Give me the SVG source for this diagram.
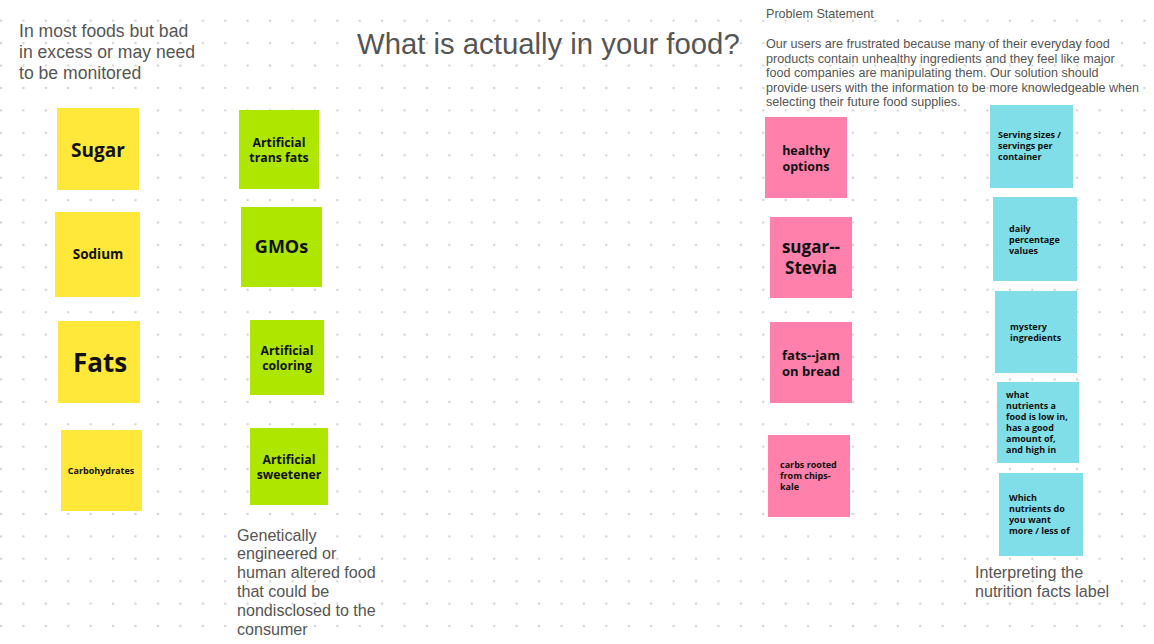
<svg xmlns="http://www.w3.org/2000/svg" width="1154" height="644" viewBox="0 0 1154 644">
<defs>
<pattern id="dots" x="1" y="-1.7" width="22.42" height="22.42" patternUnits="userSpaceOnUse">
<circle cx="0" cy="0" r="1.3" fill="#d4d4d4"/>
<circle cx="22.42" cy="0" r="1.3" fill="#d4d4d4"/>
<circle cx="0" cy="22.42" r="1.3" fill="#d4d4d4"/>
<circle cx="22.42" cy="22.42" r="1.3" fill="#d4d4d4"/>
</pattern>
<style>
.y{fill:#FFE83A}
.g{fill:#AFE600}
.p{fill:#FF80AA}
.c{fill:#7FDEE8}
.st{font-family:"Open Sans","Liberation Sans",sans-serif;font-weight:700;fill:#111;text-anchor:middle}
.sl{font-family:"Open Sans","Liberation Sans",sans-serif;font-weight:700;fill:#111;font-size:9px}
.lb{font-family:"Liberation Sans",Arial,sans-serif;fill:#555}
</style>
</defs>
<rect width="1154" height="644" fill="#ffffff"/>
<rect width="1154" height="644" fill="url(#dots)"/>

<g id="title"><text class="lb" x="357" y="54" font-size="29.3" fill="#444">What is actually in your food?</text></g>

<g id="label-monitored"><text class="lb" font-size="17.6"><tspan x="19" y="37">In most foods but bad</tspan><tspan x="19" y="58">in excess or may need</tspan><tspan x="19" y="79">to be monitored</tspan></text></g>

<g id="problem-statement"><text class="lb" font-size="12.6"><tspan x="766" y="18">Problem Statement</tspan><tspan x="766" y="48">Our users are frustrated because many of their everyday food</tspan><tspan x="766" y="62.6">products contain unhealthy ingredients and they feel like major</tspan><tspan x="766" y="77.2">food companies are manipulating them. Our solution should</tspan><tspan x="766" y="91.8">provide users with the information to be more knowledgeable when</tspan><tspan x="766" y="106.4">selecting their future food supplies.</tspan></text></g>

<g id="label-gmo"><text class="lb" font-size="16.1"><tspan x="237" y="540.5">Genetically</tspan><tspan x="237" y="559.3">engineered or</tspan><tspan x="237" y="578.1">human altered food</tspan><tspan x="237" y="596.9">that could be</tspan><tspan x="237" y="615.7">nondisclosed to the</tspan><tspan x="237" y="634.5">consumer</tspan></text></g>

<g id="label-nutrition"><text class="lb" font-size="16.1"><tspan x="975" y="578">Interpreting the</tspan><tspan x="975" y="597">nutrition facts label</tspan></text></g>

<g id="connectors"></g>

<g id="sugar"><rect class="y" x="57" y="108" width="82" height="82"/><text class="st" x="98" y="156.5" font-size="19">Sugar</text></g>
<g id="sodium"><rect class="y" x="55" y="212" width="85" height="85"/><text class="st" x="98" y="259" font-size="13.5">Sodium</text></g>
<g id="fats"><rect class="y" x="58" y="321" width="82" height="82"/><text class="st" x="100" y="371.5" font-size="26">Fats</text></g>
<g id="carbohydrates"><rect class="y" x="61" y="430" width="81" height="81"/><text class="st" x="101" y="473.5" font-size="9">Carbohydrates</text></g>

<g id="trans-fats"><rect class="g" x="239" y="110" width="80" height="79"/><text class="st" font-size="12.3"><tspan x="279" y="146.5">Artificial</tspan><tspan x="279" y="161.5">trans fats</tspan></text></g>
<g id="gmos"><rect class="g" x="241" y="207" width="81" height="80"/><text class="st" x="281.5" y="253" font-size="18">GMOs</text></g>
<g id="coloring"><rect class="g" x="250" y="320" width="74" height="75"/><text class="st" font-size="12.3"><tspan x="287" y="354.5">Artificial</tspan><tspan x="287" y="369.5">coloring</tspan></text></g>
<g id="sweetener"><rect class="g" x="250" y="428" width="78" height="77"/><text class="st" font-size="12.3"><tspan x="289" y="464">Artificial</tspan><tspan x="289" y="479">sweetener</tspan></text></g>

<g id="healthy-options"><rect class="p" x="765" y="117" width="82" height="81"/><text class="st" font-size="12.5"><tspan x="806" y="154.5">healthy</tspan><tspan x="806" y="170.5">options</tspan></text></g>
<g id="sugar-stevia"><rect class="p" x="770" y="217" width="82" height="81"/><text class="st" font-size="17"><tspan x="811" y="253">sugar--</tspan><tspan x="811" y="274">Stevia</tspan></text></g>
<g id="fats-jam"><rect class="p" x="770" y="322" width="82" height="81"/><text class="st" font-size="13"><tspan x="811" y="359.5">fats--jam</tspan><tspan x="811" y="376">on bread</tspan></text></g>
<g id="carbs-kale"><rect class="p" x="768" y="435" width="82" height="82"/><text class="sl"><tspan x="780" y="468">carbs rooted</tspan><tspan x="780" y="479">from chips-</tspan><tspan x="780" y="490">kale</tspan></text></g>

<g id="serving-sizes"><rect class="c" x="990" y="105" width="83" height="83"/><text class="sl"><tspan x="998" y="138">Serving sizes /</tspan><tspan x="998" y="149">servings per</tspan><tspan x="998" y="160">container</tspan></text></g>
<g id="daily-values"><rect class="c" x="993" y="197" width="84" height="84"/><text class="sl"><tspan x="1009" y="232">daily</tspan><tspan x="1009" y="243">percentage</tspan><tspan x="1009" y="254">values</tspan></text></g>
<g id="mystery"><rect class="c" x="995" y="291" width="82" height="82"/><text class="sl"><tspan x="1010" y="330">mystery</tspan><tspan x="1010" y="341">ingredients</tspan></text></g>
<g id="what-nutrients"><rect class="c" x="997" y="382" width="82" height="81"/><text class="sl"><tspan x="1006" y="398">what</tspan><tspan x="1006" y="409">nutrients a</tspan><tspan x="1006" y="420">food is low in,</tspan><tspan x="1006" y="431">has a good</tspan><tspan x="1006" y="442">amount of,</tspan><tspan x="1006" y="453">and high in</tspan></text></g>
<g id="which-nutrients"><rect class="c" x="999" y="473" width="84" height="83"/><text class="sl"><tspan x="1009" y="501">Which</tspan><tspan x="1009" y="512">nutrients do</tspan><tspan x="1009" y="523">you want</tspan><tspan x="1009" y="534">more / less of</tspan></text></g>
</svg>
